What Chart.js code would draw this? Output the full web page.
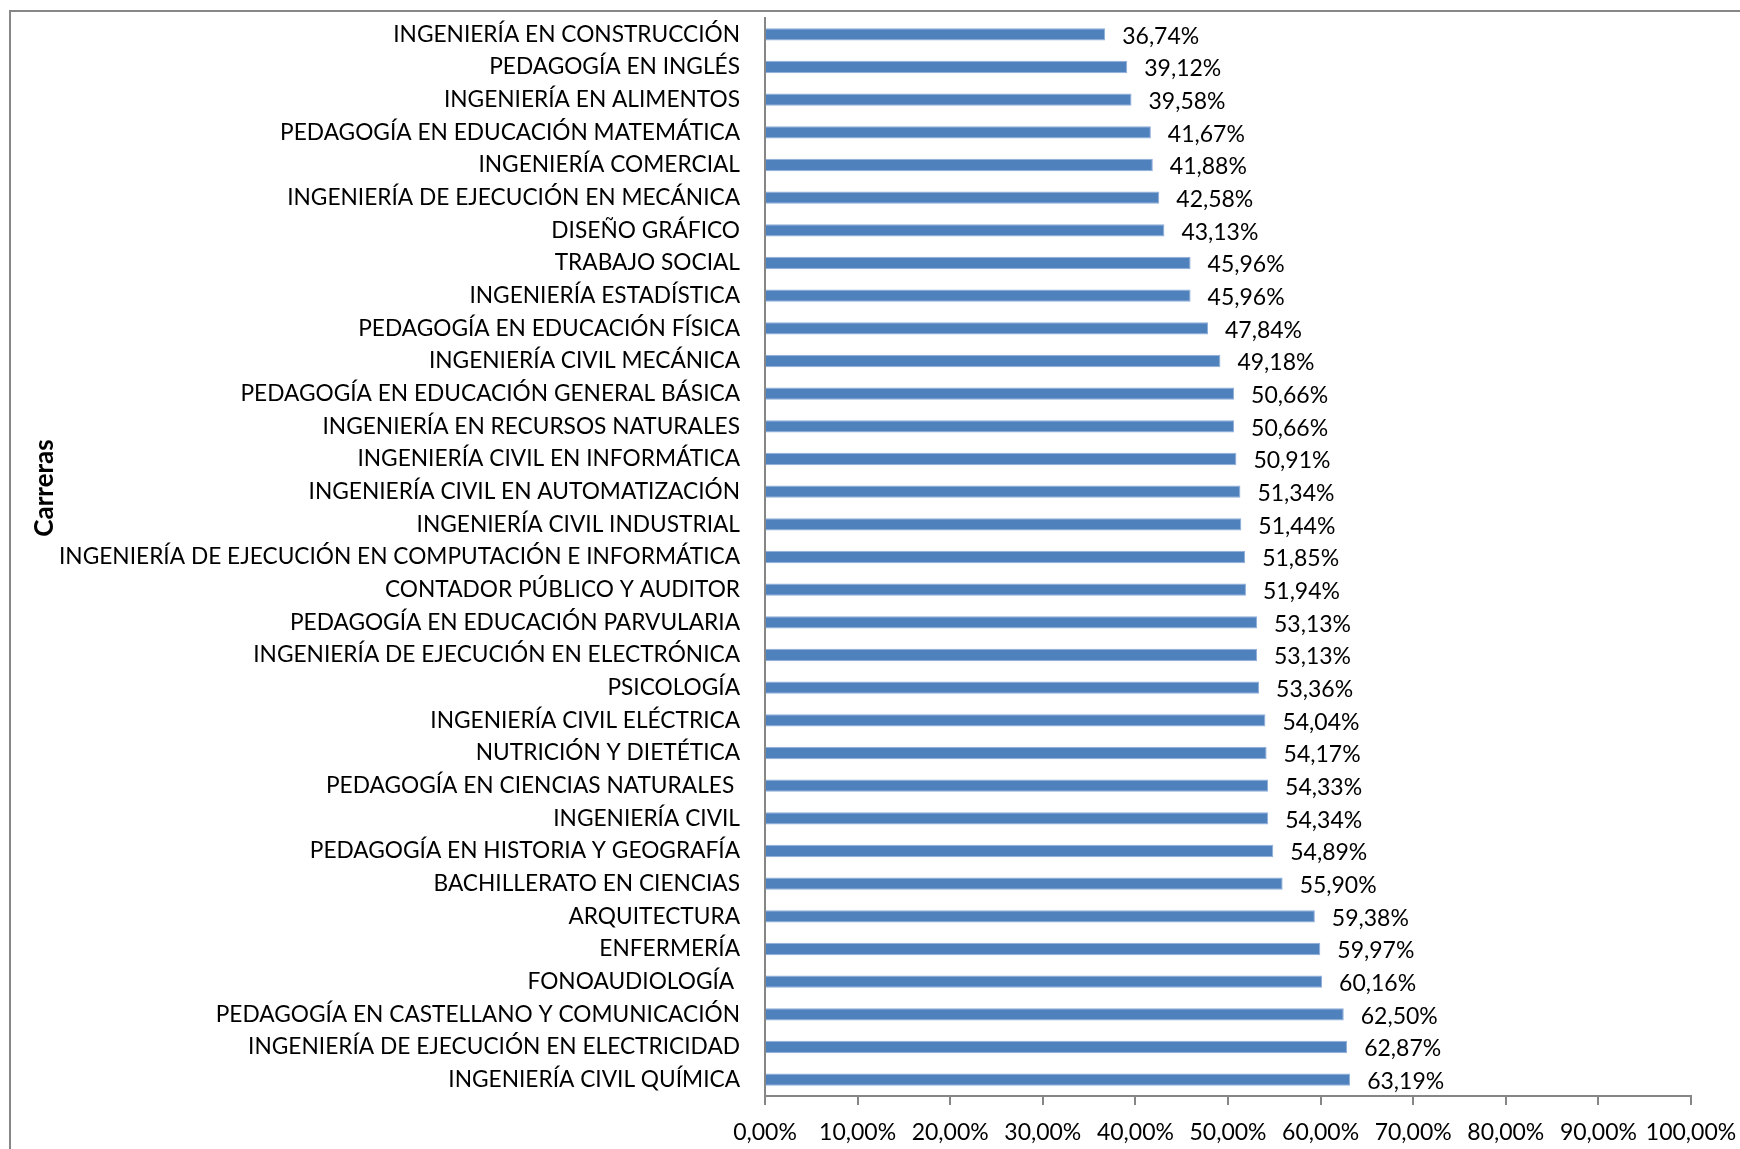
<!DOCTYPE html>
<html>
<head>
<meta charset="utf-8">
<script src="https://cdn.jsdelivr.net/npm/chart.js@4.4.1/dist/chart.umd.min.js"></script>
<style>
html,body{margin:0;padding:0;background:#fff;}
#wrap{width:1740px;height:1149px;position:relative;}
</style>
</head>
<body>
<div id="wrap"><canvas id="c" width="1740" height="1149"></canvas></div>
<script>
const categories = [
  "INGENIERÍA EN CONSTRUCCIÓN",
  "PEDAGOGÍA EN INGLÉS",
  "INGENIERÍA EN ALIMENTOS",
  "PEDAGOGÍA EN EDUCACIÓN MATEMÁTICA",
  "INGENIERÍA COMERCIAL",
  "INGENIERÍA DE EJECUCIÓN EN MECÁNICA",
  "DISEÑO GRÁFICO",
  "TRABAJO SOCIAL",
  "INGENIERÍA ESTADÍSTICA",
  "PEDAGOGÍA EN EDUCACIÓN FÍSICA",
  "INGENIERÍA CIVIL MECÁNICA",
  "PEDAGOGÍA EN EDUCACIÓN GENERAL BÁSICA",
  "INGENIERÍA EN RECURSOS NATURALES",
  "INGENIERÍA CIVIL EN INFORMÁTICA",
  "INGENIERÍA CIVIL EN AUTOMATIZACIÓN",
  "INGENIERÍA CIVIL INDUSTRIAL",
  "INGENIERÍA DE EJECUCIÓN EN COMPUTACIÓN E INFORMÁTICA",
  "CONTADOR PÚBLICO Y AUDITOR",
  "PEDAGOGÍA EN EDUCACIÓN PARVULARIA",
  "INGENIERÍA DE EJECUCIÓN EN ELECTRÓNICA",
  "PSICOLOGÍA",
  "INGENIERÍA CIVIL ELÉCTRICA",
  "NUTRICIÓN Y DIETÉTICA",
  "PEDAGOGÍA EN CIENCIAS NATURALES ",
  "INGENIERÍA CIVIL",
  "PEDAGOGÍA EN HISTORIA Y GEOGRAFÍA",
  "BACHILLERATO EN CIENCIAS",
  "ARQUITECTURA",
  "ENFERMERÍA",
  "FONOAUDIOLOGÍA ",
  "PEDAGOGÍA EN CASTELLANO Y COMUNICACIÓN",
  "INGENIERÍA DE EJECUCIÓN EN ELECTRICIDAD",
  "INGENIERÍA CIVIL QUÍMICA"
];
const values = [
  36.74, 39.12, 39.58, 41.67, 41.88, 42.58, 43.13, 45.96, 45.96, 47.84,
  49.18, 50.66, 50.66, 50.91, 51.34, 51.44, 51.85, 51.94, 53.13, 53.13,
  53.36, 54.04, 54.17, 54.33, 54.34, 54.89, 55.90, 59.38, 59.97, 60.16,
  62.50, 62.87, 63.19
];
const xTickValues = [0, 10, 20, 30, 40, 50, 60, 70, 80, 90, 100];
const axisTitle = "Carreras";

const FONT = "Lato, 'Open Sans', sans-serif";
const fmt = v => v.toFixed(2).replace('.', ',') + '%';

const framePlugin = {
  id: 'frame',
  beforeDraw(chart) {
    const ctx = chart.ctx;
    ctx.save();
    ctx.fillStyle = '#fff';
    ctx.fillRect(0, 0, chart.width, chart.height);
    ctx.strokeStyle = '#878787';
    ctx.lineWidth = 2;
    ctx.strokeRect(10, 11, chart.width + 20, chart.height + 20);
    ctx.restore();
  }
};

const extrasPlugin = {
  id: 'extras',
  afterDatasetsDraw(chart) {
    const ctx = chart.ctx;
    ctx.save();
    ctx.fillStyle = '#000';
    ctx.font = '23px ' + FONT;
    ctx.textAlign = 'left';
    ctx.textBaseline = 'middle';
    const meta = chart.getDatasetMeta(0);
    meta.data.forEach((el, i) => {
      ctx.fillText(fmt(chart.data.datasets[0].data[i]), el.x + 17, el.y + 2);
    });
    // y-axis title
    ctx.font = 'bold 26px ' + FONT;
    ctx.translate(45, 488);
    ctx.rotate(-Math.PI / 2);
    ctx.textAlign = 'center';
    ctx.fillText(axisTitle, 0, 0);
    ctx.restore();
  }
};

Chart.defaults.color = '#000';
Chart.defaults.font.family = FONT;

new Chart(document.getElementById('c'), {
  type: 'bar',
  data: {
    labels: categories,
    datasets: [{
      data: values,
      backgroundColor: '#4F81BD',
      borderColor: '#8FAEDA',
      borderWidth: 1,
      barPercentage: 0.38,
      categoryPercentage: 1.0
    }]
  },
  options: {
    indexAxis: 'y',
    responsive: false,
    animation: false,
    events: [],
    layout: { padding: { top: 18, right: 49, left: 0, bottom: 0 } },
    plugins: { legend: { display: false }, tooltip: { enabled: false } },
    scales: {
      x: {
        min: 0, max: 100,
        afterBuildTicks(scale) { scale.ticks = xTickValues.map(v => ({ value: v })); },
        afterFit(scale) {
          scale.height = 1149 - 1096;
          scale.paddingLeft = 0; scale.paddingRight = 0;
        },
        grid: { drawOnChartArea: false, drawTicks: true, tickLength: 9, color: '#868686', lineWidth: 2 },
        border: { display: true, color: '#868686', width: 2 },
        ticks: {
          padding: 14,
          maxRotation: 0,
          autoSkip: false,
          font: { size: 23, family: FONT },
          color: '#000',
          callback: v => fmt(v)
        }
      },
      y: {
        afterFit(scale) {
          scale.width = 765;
          scale.paddingTop = 0; scale.paddingBottom = 0;
        },
        grid: { display: false, drawTicks: false },
        border: { display: true, color: '#868686', width: 2 },
        ticks: {
          padding: 25,
          autoSkip: false,
          font: { size: 22.7, family: FONT },
          color: '#000'
        }
      }
    }
  },
  plugins: [framePlugin, extrasPlugin]
});
</script>
</body>
</html>
